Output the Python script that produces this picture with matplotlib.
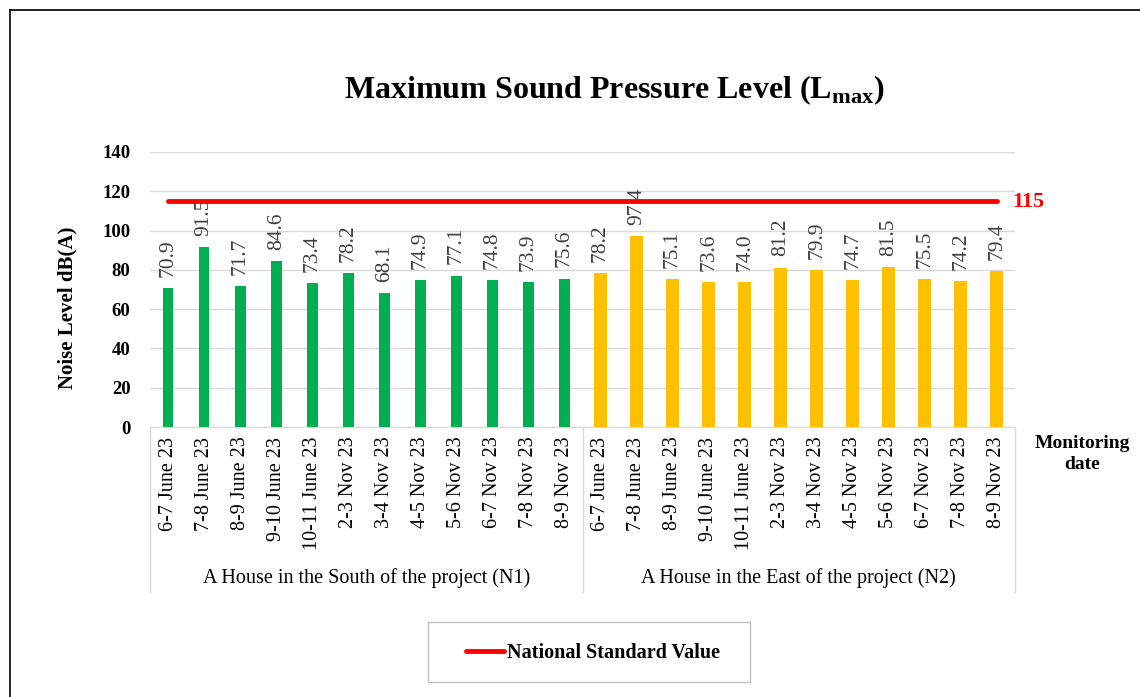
import numpy as np
import matplotlib.pyplot as plt
from matplotlib.lines import Line2D
from matplotlib.patches import Rectangle

plt.rcParams['font.family'] = ['Liberation Serif', 'DejaVu Serif']
plt.rcParams['mathtext.fontset'] = 'custom'
plt.rcParams['mathtext.rm'] = 'Liberation Serif'
plt.rcParams['mathtext.bf'] = 'Liberation Serif:bold'

dates = ["6-7 June 23", "7-8 June 23", "8-9 June 23", "9-10 June 23", "10-11 June 23",
         "2-3 Nov 23", "3-4 Nov 23", "4-5 Nov 23", "5-6 Nov 23", "6-7 Nov 23",
         "7-8 Nov 23", "8-9 Nov 23"]
groups = ["A House in the South of the project (N1)", "A House in the East of the project (N2)"]
n1_values = [70.9, 91.5, 71.7, 84.6, 73.4, 78.2, 68.1, 74.9, 77.1, 74.8, 73.9, 75.6]
n2_values = [78.2, 97.4, 75.1, 73.6, 74.0, 81.2, 79.9, 74.7, 81.5, 75.5, 74.2, 79.4]
standard = 115

fig = plt.figure(figsize=(11.4, 6.97), dpi=100)
ax = fig.add_axes([150/1140, 1-427/697, 865/1140, 275/697])

n = len(dates)
x1 = np.arange(n)
x2 = np.arange(n, 2*n)
ax.bar(x1, n1_values, width=0.3, color='#00B050', zorder=3)
ax.bar(x2, n2_values, width=0.36, color='#FFC000', zorder=3)

# data labels
for xs, vals in ((x1, n1_values), (x2, n2_values)):
    for xi, v in zip(xs, vals):
        ax.annotate(f"{v:.1f}", (xi, v), xytext=(0, 8), textcoords='offset points',
                    rotation=90, ha='center', va='bottom', fontsize=15.5, color='#404040',
                    zorder=4)

# national standard line
line, = ax.plot([0, 2*n - 1], [standard, standard], color='#FF0000', lw=3.5,
                solid_capstyle='round', zorder=5, label='National Standard Value')
ax.annotate(str(standard), (2*n - 1, standard), xytext=(11, -1), textcoords='offset points',
            ha='left', va='center', fontsize=16, fontweight='bold', color='#FF0000')

ax.set_xlim(-0.5, 2*n - 0.5)
ax.set_ylim(0, 140)
ax.set_yticks(range(0, 141, 20))
ax.yaxis.grid(True, color='#D9D9D9', lw=1, zorder=0)
ax.tick_params(axis='y', length=0, labelsize=13.5, pad=14)
for lbl in ax.get_yticklabels():
    lbl.set_fontweight('bold')
ax.set_xticks(np.arange(2*n))
ax.set_xticklabels(dates + dates, rotation=90, fontsize=14.5)
ax.tick_params(axis='x', length=0, pad=7)
for s in ['left', 'right', 'top']:
    ax.spines[s].set_visible(False)
ax.spines['bottom'].set_color('#D9D9D9')

# group separators and labels
for xb in (-0.5, n - 0.5, 2*n - 0.5):
    ax.add_line(Line2D([xb, xb], [0, -0.6], transform=ax.get_xaxis_transform(),
                       color='#D9D9D9', lw=1, clip_on=False))
for gi, g in enumerate(groups):
    ax.text(gi*n + (n - 1)/2, -0.55, g, transform=ax.get_xaxis_transform(),
            ha='center', va='center', fontsize=14.5)

fig.text(67/1140, 1-308/697, "Noise Level dB(A)", rotation=90, ha='center', va='center',
         fontsize=15, fontweight='bold')
fig.text(1082/1140, 1-454/697, "Monitoring\ndate", ha='center', va='center',
         fontsize=14, fontweight='bold', linespacing=1.3)

fig.text(614/1140, 1-90/697, r"Maximum Sound Pressure Level (L$_{\mathbf{max}}$)",
         ha='center', va='center', fontsize=23, fontweight='bold')

# legend
fig.add_artist(Rectangle((428/1140, 1-682/697), 322/1140, 60/697, transform=fig.transFigure,
                         facecolor='white', edgecolor='#BFBFBF', lw=1))
leg = fig.legend(handles=[line], loc='center left', bbox_to_anchor=(458/1140, 1-653/697),
                 prop={'weight': 'bold', 'size': 14.5}, handlelength=1.9,
                 handletextpad=0.15, frameon=False, borderaxespad=0)

# outer border
fig.add_artist(Line2D([10/1140, 10/1140], [0, 1-10/697], color='black', lw=1.2))
fig.add_artist(Line2D([10/1140, 1], [1-10/697, 1-10/697], color='black', lw=1.2))

fig.savefig('out.png', dpi=100)
